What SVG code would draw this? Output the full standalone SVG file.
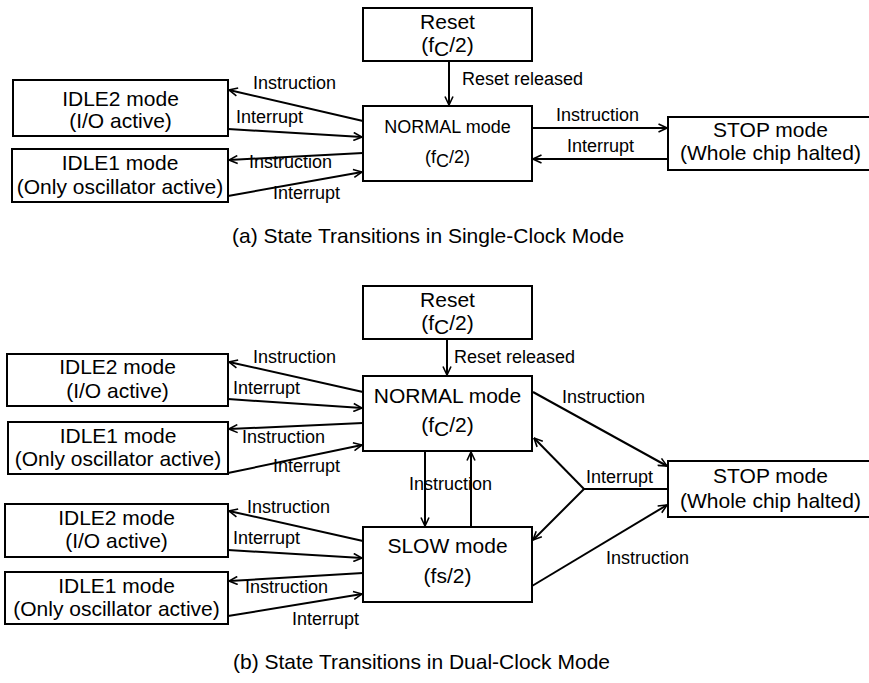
<svg xmlns="http://www.w3.org/2000/svg" width="869" height="683" viewBox="0 0 869 683">
<style>
.box{fill:#fff;stroke:#000;stroke-width:2}
.t{font-family:"Liberation Sans",Arial,sans-serif;font-size:21px;fill:#000;text-anchor:middle}
.t18{font-family:"Liberation Sans",Arial,sans-serif;font-size:18px;fill:#000;text-anchor:middle}
.lbl{font-family:"Liberation Sans",Arial,sans-serif;font-size:18px;fill:#000}
.cap{font-family:"Liberation Sans",Arial,sans-serif;font-size:21px;fill:#000}
.c{fill:none;stroke:#000;stroke-width:2;marker-end:url(#ah)}
.n{fill:none;stroke:#000;stroke-width:2}
</style>
<defs>
<marker id="ah" viewBox="0 0 10 10" refX="9.5" refY="5" markerWidth="10" markerHeight="10" markerUnits="userSpaceOnUse" orient="auto">
<path d="M1,1 L9.5,5 L1,9" fill="none" stroke="#000" stroke-width="1.6"/>
</marker>
</defs>
<rect width="869" height="683" fill="#fff"/>

<!-- (a) nodes -->
<g id="a-reset"><rect class="box" x="363" y="8" width="169" height="53"/>
<text class="t" x="447.5" y="29">Reset</text>
<text class="t" x="447.5" y="52">(f<tspan dy="4">C</tspan><tspan dy="-4">/2)</tspan></text></g>
<g id="a-normal"><rect class="box" x="363" y="106" width="169" height="75"/>
<text class="t18" x="447.5" y="133">NORMAL mode</text>
<text class="t18" x="447.5" y="163">(f<tspan dy="4">C</tspan><tspan dy="-4">/2)</tspan></text></g>
<g id="a-idle2"><rect class="box" x="13" y="80" width="215" height="56"/>
<text class="t" x="120.5" y="106">IDLE2 mode</text>
<text class="t" x="120.5" y="128">(I/O active)</text></g>
<g id="a-idle1"><rect class="box" x="12" y="149" width="216" height="53"/>
<text class="t" x="120" y="170">IDLE1 mode</text>
<text class="t" x="120" y="194">(Only oscillator active)</text></g>
<g id="a-stop"><rect class="box" x="668" y="117" width="210" height="53"/>
<text class="t" x="770.5" y="137">STOP mode</text>
<text class="t" x="770.5" y="160">(Whole chip halted)</text></g>

<!-- (a) connectors -->
<g id="a-connectors">
<line class="c" x1="449" y1="61" x2="449" y2="105"/>
<line class="c" x1="532" y1="128" x2="667" y2="128"/>
<line class="c" x1="668" y1="159" x2="533" y2="159"/>
<line class="c" x1="363" y1="121" x2="229" y2="90"/>
<line class="c" x1="228" y1="129" x2="362" y2="137"/>
<line class="c" x1="363" y1="153" x2="229" y2="160"/>
<line class="c" x1="228" y1="196" x2="362" y2="172"/>
<text class="lbl" x="462" y="85">Reset released</text>
<text class="lbl" x="556" y="121">Instruction</text>
<text class="lbl" x="567" y="152">Interrupt</text>
<text class="lbl" x="253" y="89">Instruction</text>
<text class="lbl" x="236" y="123">Interrupt</text>
<text class="lbl" x="249" y="168">Instruction</text>
<text class="lbl" x="273" y="199">Interrupt</text>
</g>
<text class="cap" x="232" y="243">(a) State Transitions in Single-Clock Mode</text>

<!-- (b) nodes -->
<g id="b-reset"><rect class="box" x="363" y="286" width="169" height="53"/>
<text class="t" x="447.5" y="307">Reset</text>
<text class="t" x="447.5" y="330">(f<tspan dy="4">C</tspan><tspan dy="-4">/2)</tspan></text></g>
<g id="b-normal"><rect class="box" x="363" y="376" width="169" height="75"/>
<text class="t" x="447.5" y="403">NORMAL mode</text>
<text class="t" x="447.5" y="432">(f<tspan dy="4">C</tspan><tspan dy="-4">/2)</tspan></text></g>
<g id="b-slow"><rect class="box" x="363" y="527" width="169" height="75"/>
<text class="t" x="447.5" y="553">SLOW mode</text>
<text class="t" x="447.5" y="583">(fs/2)</text></g>
<g id="b-idle2n"><rect class="box" x="7" y="354" width="221" height="52"/>
<text class="t" x="117.5" y="374">IDLE2 mode</text>
<text class="t" x="117.5" y="398">(I/O active)</text></g>
<g id="b-idle1n"><rect class="box" x="8" y="422" width="220" height="52"/>
<text class="t" x="118" y="443">IDLE1 mode</text>
<text class="t" x="118" y="466">(Only oscillator active)</text></g>
<g id="b-idle2s"><rect class="box" x="5" y="504" width="223" height="53"/>
<text class="t" x="116.5" y="525">IDLE2 mode</text>
<text class="t" x="116.5" y="548">(I/O active)</text></g>
<g id="b-idle1s"><rect class="box" x="5" y="572" width="223" height="52"/>
<text class="t" x="116.5" y="593">IDLE1 mode</text>
<text class="t" x="116.5" y="616">(Only oscillator active)</text></g>
<g id="b-stop"><rect class="box" x="668" y="461" width="210" height="56"/>
<text class="t" x="770.5" y="483">STOP mode</text>
<text class="t" x="770.5" y="508">(Whole chip halted)</text></g>

<!-- (b) connectors -->
<g id="b-connectors">
<line class="c" x1="447" y1="339" x2="447" y2="375"/>
<line class="c" x1="425" y1="451" x2="425" y2="526"/>
<line class="c" x1="471" y1="527" x2="471" y2="452"/>
<line class="c" x1="533" y1="392" x2="667" y2="466"/>
<line class="c" x1="532" y1="586" x2="667" y2="505"/>
<line class="n" x1="668" y1="489" x2="584" y2="489"/>
<line class="c" x1="584" y1="489" x2="534" y2="438"/>
<line class="c" x1="584" y1="489" x2="533" y2="540"/>
<line class="c" x1="363" y1="392" x2="229" y2="362"/>
<line class="c" x1="228" y1="399" x2="362" y2="408"/>
<line class="c" x1="363" y1="423" x2="229" y2="429"/>
<line class="c" x1="228" y1="473" x2="362" y2="445"/>
<line class="c" x1="363" y1="541" x2="229" y2="511"/>
<line class="c" x1="228" y1="550" x2="362" y2="558"/>
<line class="c" x1="363" y1="573" x2="229" y2="581"/>
<line class="c" x1="228" y1="616" x2="362" y2="594"/>
<text class="lbl" x="454" y="363">Reset released</text>
<text class="lbl" x="562" y="403">Instruction</text>
<text class="lbl" x="409" y="490">Instruction</text>
<text class="lbl" x="586" y="483">Interrupt</text>
<text class="lbl" x="606" y="564">Instruction</text>
<text class="lbl" x="253" y="363">Instruction</text>
<text class="lbl" x="233" y="394">Interrupt</text>
<text class="lbl" x="242" y="443">Instruction</text>
<text class="lbl" x="273" y="472">Interrupt</text>
<text class="lbl" x="247" y="513">Instruction</text>
<text class="lbl" x="233" y="544">Interrupt</text>
<text class="lbl" x="245" y="593">Instruction</text>
<text class="lbl" x="292" y="625">Interrupt</text>
</g>
<text class="cap" x="233" y="669">(b) State Transitions in Dual-Clock Mode</text>
</svg>
